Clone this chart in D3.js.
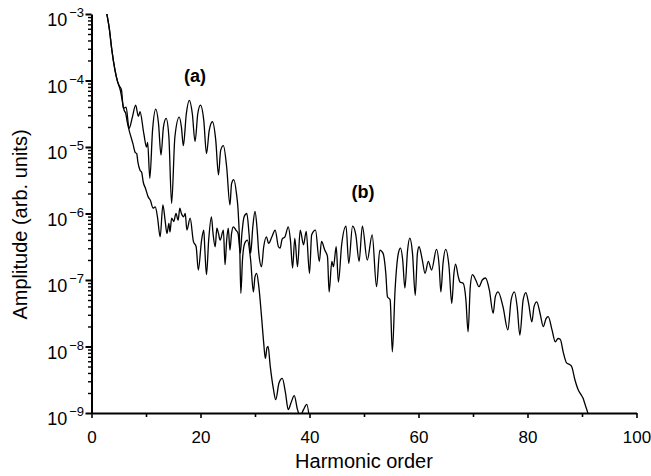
<!DOCTYPE html>
<html><head><meta charset="utf-8">
<script src="https://cdn.jsdelivr.net/npm/d3@7/dist/d3.min.js"></script>
<style>body{margin:0;background:#fff}svg{display:block}</style>
</head><body><svg id="c" width="651" height="476"></svg>
<script>
// ---- data (harmonic order, log10 amplitude) ----
const harmonicA = [2.75,3.3,3.7,4.3,4.8,5.1,5.5,5.85,6.35,6.9,7.5,8.1,8.6,8.9,9.6,10.1,10.3,10.7,11.2,11.8,12.3,12.75,13.2,13.7,14.2,14.7,15.3,16.1,16.5,16.85,17.4,17.95,18.5,19.0,19.5,20.0,20.6,21.1,21.6,22.2,22.8,23.3,23.7,24.2,24.8,25.4,25.7,26.1,26.6,26.9,27.2,27.4,27.7,28.1,28.6,29.2,29.7,30.0,30.3,30.7,31.2,31.6,31.9,32.2,32.4,32.8,33.4,33.8,34.4,35.0,35.6,36.1,36.6,37.2,37.8,38.3,38.9,39.5,40.0];
const log10AmpA = [-2.97,-3.24,-3.52,-3.84,-4.02,-4.08,-4.14,-4.42,-4.40,-4.72,-4.55,-4.37,-4.54,-4.47,-4.8,-5.0,-4.93,-5.47,-4.75,-4.43,-4.65,-5.12,-4.7,-4.57,-4.85,-5.85,-4.85,-4.55,-4.7,-4.98,-4.5,-4.3,-4.5,-4.92,-4.5,-4.37,-4.6,-5.1,-4.75,-4.62,-4.9,-5.42,-5.05,-4.98,-5.3,-5.87,-5.55,-5.49,-5.7,-5.95,-6.5,-7.2,-6.7,-6.45,-6.4,-6.7,-7.18,-6.95,-6.9,-7.1,-7.55,-7.95,-8.18,-8.02,-8.0,-8.3,-8.65,-8.8,-8.55,-8.48,-8.7,-8.95,-8.85,-8.74,-8.95,-9.05,-8.95,-8.87,-9.1];

const harmonicB = [2.75,3.3,3.7,4.3,4.8,5.3,6.0,6.3,6.5,7.0,7.25,7.6,8.0,8.3,8.5,8.9,9.2,9.5,9.9,10.4,10.8,11.3,11.7,12.1,12.6,13.1,13.5,13.85,14.2,14.4,14.7,15.1,15.5,15.9,16.2,16.5,16.9,17.2,17.5,18.1,18.7,19.2,19.6,20.2,20.6,20.8,21.1,21.5,22.0,22.3,22.7,23.0,23.3,23.6,24.2,24.5,24.8,25.1,25.4,25.7,26.0,26.5,26.9,27.3,27.6,28.0,28.5,28.9,29.2,29.6,30.0,30.4,30.7,31.2,31.6,32.1,32.5,33.1,33.7,34.3,34.6,35.0,35.5,36.1,36.5,36.9,37.3,37.8,38.3,38.9,39.4,40.0,40.4,41.1,41.8,42.2,42.8,43.3,43.6,44.1,44.4,44.9,45.3,45.9,46.7,47.2,47.9,48.5,49.1,49.7,50.6,51.5,52.3,52.9,53.5,54.0,54.3,54.8,55.2,55.7,56.3,56.7,57.1,57.5,58.0,58.4,58.9,59.4,59.8,60.1,60.7,61.2,61.8,62.4,63.3,63.8,64.1,64.5,65.0,65.6,66.1,66.5,66.8,67.3,67.6,68.2,68.7,69.1,69.5,69.9,70.5,71.1,71.7,72.3,73.0,73.7,74.1,74.6,75.5,76.4,77.0,77.6,78.1,78.6,79.2,79.7,80.2,80.8,81.2,81.7,82.3,82.9,83.4,83.8,84.5,85.1,85.6,86.0,86.6,87.2,87.7,88.1,88.7,89.3,89.8,90.2,90.6,91.0,91.4];
const log10AmpB = [-2.97,-3.24,-3.52,-3.84,-4.02,-4.15,-4.45,-4.5,-4.6,-4.78,-4.85,-4.95,-5.08,-5.1,-5.22,-5.35,-5.38,-5.53,-5.62,-5.75,-5.8,-5.92,-5.9,-6.05,-6.35,-5.87,-6.1,-6.3,-6.15,-6.28,-6.07,-6.12,-6.0,-6.1,-5.92,-6.0,-6.05,-6.0,-6.25,-6.07,-6.42,-6.5,-6.85,-6.4,-6.25,-6.55,-6.92,-6.4,-6.05,-6.3,-6.5,-6.22,-6.3,-6.4,-6.25,-6.77,-6.4,-6.22,-6.55,-6.3,-6.2,-6.25,-6.3,-6.6,-6.3,-6.05,-6.0,-6.3,-6.6,-6.2,-5.97,-6.25,-6.6,-6.8,-6.5,-6.35,-6.45,-6.35,-6.25,-6.5,-6.52,-6.38,-6.35,-6.2,-6.4,-6.82,-6.37,-6.8,-6.25,-6.47,-6.27,-6.9,-6.32,-6.25,-6.72,-6.42,-6.55,-6.65,-7.18,-6.72,-6.8,-6.5,-7.03,-6.47,-6.19,-6.75,-6.19,-6.32,-6.72,-6.19,-6.7,-6.32,-7.1,-6.55,-6.6,-6.9,-7.25,-7.3,-8.08,-7.15,-6.6,-6.52,-6.7,-7.12,-6.55,-6.37,-6.6,-7.23,-6.6,-6.5,-6.7,-6.9,-6.72,-6.85,-6.54,-6.8,-7.18,-6.75,-6.54,-6.8,-7.35,-6.9,-6.76,-6.95,-7.03,-7.05,-7.3,-7.78,-7.1,-6.92,-7.0,-7.1,-7.0,-6.97,-7.15,-7.5,-7.25,-7.18,-7.4,-7.75,-7.3,-7.18,-7.4,-7.83,-7.3,-7.19,-7.35,-7.63,-7.4,-7.33,-7.5,-7.7,-7.58,-7.55,-7.75,-7.93,-7.88,-7.89,-8.1,-8.25,-8.27,-8.3,-8.5,-8.65,-8.72,-8.78,-8.88,-8.98,-9.1];

const xTickValues = [0, 20, 40, 60, 80, 100];
const xMinorTickValues = [10, 30, 50, 70, 90];
const yDecadeExponents = [-3, -4, -5, -6, -7, -8, -9];
const curveLabels = ["(a)", "(b)"];
const xTitle = "Harmonic order";
const yTitle = "Amplitude (arb. units)";

// ---- drawing ----
const svg = d3.select("#c");
const FONT = "'Liberation Sans', Arial, Helvetica, sans-serif";
const x = d3.scaleLinear().domain([0, 100]).range([91.5, 636.5]);
const y = d3.scaleLog().domain([1e-9, 1e-3]).range([413, 14]);

svg.append("rect").attr("width", 651).attr("height", 476).attr("fill", "#fff");

svg.append("defs").append("clipPath").attr("id", "clip")
  .append("rect").attr("x", x(0)).attr("y", y(1e-3))
  .attr("width", x(100) - x(0)).attr("height", y(1e-9) - y(1e-3));

const line = d3.line().x(d => x(d[0])).y(d => y(Math.pow(10, d[1]))).curve(d3.curveMonotoneX);
const seriesA = harmonicA.map((h, i) => [h, log10AmpA[i]]);
const seriesB = harmonicB.map((h, i) => [h, log10AmpB[i]]);

const plot = svg.append("g").attr("clip-path", "url(#clip)");
[seriesB, seriesA].forEach(s => {
  plot.append("path").datum(s).attr("d", line)
    .attr("fill", "none").attr("stroke", "#000").attr("stroke-width", 1.3)
    .attr("stroke-linejoin", "round");
});

// x axis
const isMajorX = d => xTickValues.includes(d);
const gx = svg.append("g").attr("transform", `translate(0,${y(1e-9)})`)
  .call(d3.axisBottom(x).tickValues([...xTickValues, ...xMinorTickValues].sort((a,b)=>a-b))
    .tickFormat(d => isMajorX(d) ? d : "").tickSizeOuter(0).tickPadding(12));
gx.select(".domain").attr("stroke-width", 2);
gx.selectAll(".tick line").attr("y2", d => isMajorX(d) ? 5 : 4).attr("stroke-width", 1.6);
gx.selectAll(".tick text").attr("font-family", FONT).attr("font-size", 17).attr("fill", "#000");

// y axis
const isMajorY = d => Math.abs(Math.log10(d) - Math.round(Math.log10(d))) < 1e-6;
const gy = svg.append("g").attr("transform", `translate(${x(0)},0)`)
  .call(d3.axisLeft(y).tickValues(y.ticks()).tickFormat("").tickSizeOuter(0));
gy.select(".domain").attr("stroke-width", 2);
gy.selectAll(".tick line").attr("x2", d => isMajorY(d) ? -6 : -3.5).attr("stroke-width", d => isMajorY(d) ? 2 : 1.4);

const yl = svg.append("g");
yDecadeExponents.forEach(e => {
  const t = yl.append("text").attr("x", 84).attr("y", y(Math.pow(10, e)) + 12)
    .attr("text-anchor", "end").attr("font-family", FONT).attr("fill", "#000");
  t.append("tspan").attr("font-size", 18).text("10");
  t.append("tspan").attr("font-size", 13).attr("dx", 2).attr("dy", -9).text("\u2212" + Math.abs(e));
});

// titles
svg.append("text").attr("x", (x(0) + x(100)) / 2).attr("y", 468)
  .attr("text-anchor", "middle").attr("font-family", FONT).attr("font-size", 20).text(xTitle);
svg.append("text").attr("transform", `translate(27,${(y(1e-3) + y(1e-9)) / 2 + 11}) rotate(-90)`)
  .attr("text-anchor", "middle").attr("font-family", FONT).attr("font-size", 20).text(yTitle);

// curve labels
svg.append("text").attr("x", x(19)).attr("y", y(1e-4) + 1)
  .attr("text-anchor", "middle").attr("font-family", FONT).attr("font-weight", "bold").attr("font-size", 18).text(curveLabels[0]);
svg.append("text").attr("x", x(49.8)).attr("y", y(Math.pow(10, -5.77)))
  .attr("text-anchor", "middle").attr("font-family", FONT).attr("font-weight", "bold").attr("font-size", 18).text(curveLabels[1]);
</script>
</body></html>
